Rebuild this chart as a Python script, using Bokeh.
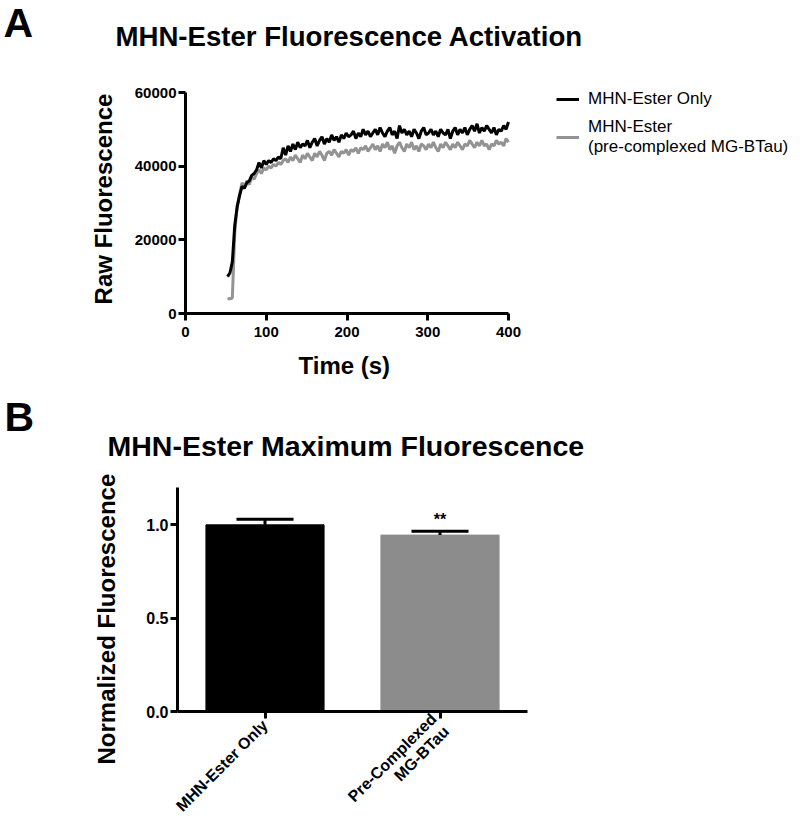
import math
from bokeh.plotting import figure
from bokeh.models import (Range1d, FixedTicker, Label, Legend, LegendItem, Title,
                          PrintfTickFormatter, ColumnDataSource)
from bokeh.embed import file_html
from bokeh.resources import INLINE

FONT = "Liberation Sans"

# ---------------- Panel A data ----------------
time_start = 52
time_step = 3
black = [
    10000, 11000, 14000, 24000, 29000, 32000, 34500, 34000, 35500, 36000,
    37500, 38000, 39000, 41000, 39500, 41500, 40500, 41500, 41000, 42000,
    41500, 42500, 42000, 45000, 43000, 45500, 44000, 46000, 44500, 46500,
    45000, 46000, 45500, 47000, 45000, 46500, 47500, 45500, 47000, 48000,
    46000, 47500, 46500, 48500, 47000, 48000, 46500, 48500, 47500, 49000,
    48000, 48500, 49500, 47500, 49000, 48000, 50000, 48500, 49500, 48000,
    49000, 50000, 48500, 50500, 49000, 48000, 49500, 50500, 48500, 49500,
    47500, 51000, 49000, 50000, 48500, 49500, 48000, 50000, 49000, 47500,
    49500, 50500, 48500, 49000, 50000, 48500, 49500, 48000, 50000, 49000,
    48500, 50000, 47500, 49500, 50500, 48500, 50000, 49000, 50500, 48500,
    50000, 51000, 49500, 51500, 49000, 50500, 49500, 51000, 50000, 49000,
    50500, 48500, 50000, 49500, 51000, 50000, 52000,
]
gray = [
    4000, 4000, 4200, 22000, 29000, 32500, 35500, 34500, 36000, 35000,
    37000, 36500, 38000, 39000, 38000, 39500, 39000, 40000, 39500, 40500,
    40000, 41000, 40500, 41500, 42000, 41000, 42500, 41500, 43000, 42000,
    41000, 43000, 42000, 43500, 42500, 41500, 43500, 42500, 44000, 43000,
    41500, 43500, 44000, 43000, 44500, 43500, 42500, 44000, 43500, 44500,
    43000, 44500, 44000, 45000, 43500, 45000, 44500, 45500, 44000, 45000,
    46000, 44500, 45500, 44000, 46000, 45000, 46500, 44500, 45500, 43500,
    45500, 46500, 45000, 44000, 46000, 45000, 46500, 44500, 45500, 44000,
    46000, 45500, 44500, 46000, 45000, 46500, 45000, 44000, 46000, 45000,
    46500, 45500, 44500, 46000, 45000, 46500, 45500, 44500, 46000, 45500,
    47000, 46000, 45000, 46500, 45500, 47000, 45500, 46000, 44500, 46000,
    45500, 47000, 46000, 46500, 45500, 47500, 46500,
]
time = [time_start + time_step * i for i in range(len(black))]
x_ticks_a = [0, 100, 200, 300, 400]
y_ticks_a = [0, 20000, 40000, 60000]
series_labels = ["MHN-Ester Only", "MHN-Ester\n(pre-complexed MG-BTau)"]

# ---------------- Panel B data ----------------
categories = ["MHN-Ester Only", "Pre-Complexed\nMG-BTau"]
means = [1.0, 0.945]
errors = [0.03, 0.02]
bar_colors = ["#000000", "#8c8c8c"]
y_ticks_b = [0.0, 0.5, 1.0]
y_max_b = 1.2
significance = ["", "**"]


def style_axes(p, tick_size):
    for ax in (p.xaxis[0], p.yaxis[0]):
        ax.axis_line_width = 3
        ax.axis_line_color = "black"
        ax.major_tick_line_width = 3
        ax.major_tick_line_color = "black"
        ax.major_tick_out = 7
        ax.major_tick_in = 0
        ax.minor_tick_line_color = None
        ax.major_label_text_font = FONT
        ax.major_label_text_font_style = "bold"
        ax.major_label_text_font_size = tick_size
        ax.major_label_text_color = "black"
        ax.axis_label_text_font = FONT
        ax.axis_label_text_font_style = "bold"
        ax.axis_label_text_font_size = "24px"
        ax.axis_label_text_color = "black"
    p.xgrid.visible = False
    p.ygrid.visible = False
    p.outline_line_color = None
    p.background_fill_color = None


def style_title(t, size="27px"):
    t.text_font = FONT
    t.text_font_style = "bold"
    t.text_font_size = size
    t.text_color = "black"


def side_text(p, place, x, y, s, size):
    # text placed in a side panel (side panels are not clipped to the frame)
    p.add_layout(Label(x=x, y=y, x_units="screen", y_units="screen", text=s,
                       text_font=FONT, text_font_style="bold",
                       text_font_size=size, text_color="black",
                       text_align="left", text_baseline="alphabetic"), place)


# ================= Panel A =================
# axis box: x 185..508, y 92..313 ; frame extended to the right / top a little
A_W, A_H = 792, 394
A_LEFT, A_TOP, A_BOTTOM = 185, 84, 81
A_AXIS_W, A_AXIS_H = 323, 221
A_FRAME_W, A_FRAME_H = A_W - A_LEFT, A_H - A_TOP - A_BOTTOM
pA = figure(width=A_W, height=A_H, output_backend="svg", toolbar_location=None,
            title=None,
            x_range=Range1d(x_ticks_a[0], x_ticks_a[-1] * A_FRAME_W / A_AXIS_W),
            y_range=Range1d(y_ticks_a[0], y_ticks_a[-1] * A_FRAME_H / A_AXIS_H),
            min_border_left=A_LEFT, min_border_right=0,
            min_border_top=A_TOP, min_border_bottom=A_BOTTOM)
style_axes(pA, "15px")
pA.xaxis.ticker = FixedTicker(ticks=x_ticks_a)
pA.yaxis.ticker = FixedTicker(ticks=y_ticks_a)
pA.xaxis.bounds = (x_ticks_a[0], x_ticks_a[-1])
pA.yaxis.bounds = (y_ticks_a[0], y_ticks_a[-1])
pA.xaxis.major_label_standoff = 6
pA.yaxis.major_label_standoff = 2
pA.yaxis.axis_label = "Raw Fluorescence"
pA.yaxis.axis_label_standoff = 15

xlab_a = Title(text="Time (s)", align="left", offset=113, standoff=20)
style_title(xlab_a, "24px")
pA.add_layout(xlab_a, "below")

r_gray = pA.line(time, gray, line_color="#939393", line_width=3)
r_black = pA.line(time, black, line_color="#000000", line_width=3)

legend = Legend(items=[LegendItem(label=series_labels[0], renderers=[r_black]),
                       LegendItem(label=series_labels[1], renderers=[r_gray])],
                location=(371, 156), glyph_width=23, glyph_height=20,
                label_standoff=9, padding=0, margin=0, spacing=8,
                label_height=20, border_line_color=None,
                background_fill_alpha=0,
                label_text_font=FONT, label_text_font_size="17px",
                label_text_color="black")
pA.add_layout(legend)
side_text(pA, "above", -70, 48, "MHN-Ester Fluorescence Activation", "27.6px")
side_text(pA, "left", -53, 291, "A", "41px")

# ================= Panel B =================
xs = [i + 0.5 for i in range(len(categories))]
src = ColumnDataSource(dict(x=xs, top=means, color=bar_colors,
                            err_top=[m + e for m, e in zip(means, errors)],
                            cap_l=[x - 0.163 for x in xs],
                            cap_r=[x + 0.163 for x in xs]))

pB = figure(width=792, height=439, output_backend="svg", toolbar_location=None,
            title=None,
            x_range=Range1d(0, len(categories)), y_range=Range1d(0, y_max_b),
            min_border_left=177, min_border_right=265,
            min_border_top=93, min_border_bottom=116)
style_axes(pB, "16px")
pB.xaxis.ticker = FixedTicker(ticks=xs)
pB.xaxis.major_label_overrides = {x: c for x, c in zip(xs, categories)}
pB.xaxis.major_label_orientation = math.pi / 4
pB.xaxis.major_label_standoff = 4
pB.xaxis.major_label_text_line_height = 1.05
pB.yaxis.ticker = FixedTicker(ticks=y_ticks_b)
pB.yaxis.formatter = PrintfTickFormatter(format="%.1f")
pB.yaxis.major_label_standoff = 2

pB.vbar(x="x", top="top", width=0.675, bottom=0, fill_color="color",
        line_color="color", source=src)
pB.segment(x0="x", y0="top", x1="x", y1="err_top", line_color="black",
           line_width=3, source=src)
pB.segment(x0="cap_l", y0="err_top", x1="cap_r", y1="err_top",
           line_color="black", line_width=3, source=src)

for x, et, s in zip(xs, src.data["err_top"], significance):
    if s:
        pB.add_layout(Label(x=x, y=et, y_offset=12, text=s, text_font=FONT,
                            text_font_style="bold", text_font_size="16px",
                            text_align="center", text_baseline="alphabetic",
                            text_color="black"))

ylab_b = Title(text="Normalized Fluorescence", align="left", offset=-53,
               standoff=47)
style_title(ylab_b, "24px")
pB.add_layout(ylab_b, "left")
side_text(pB, "above", -70, 42, "MHN-Ester Maximum Fluorescence", "28.5px")
side_text(pB, "left", -33, 295, "B", "41px")

open("out.html", "w").write(file_html([pA, pB], INLINE))
